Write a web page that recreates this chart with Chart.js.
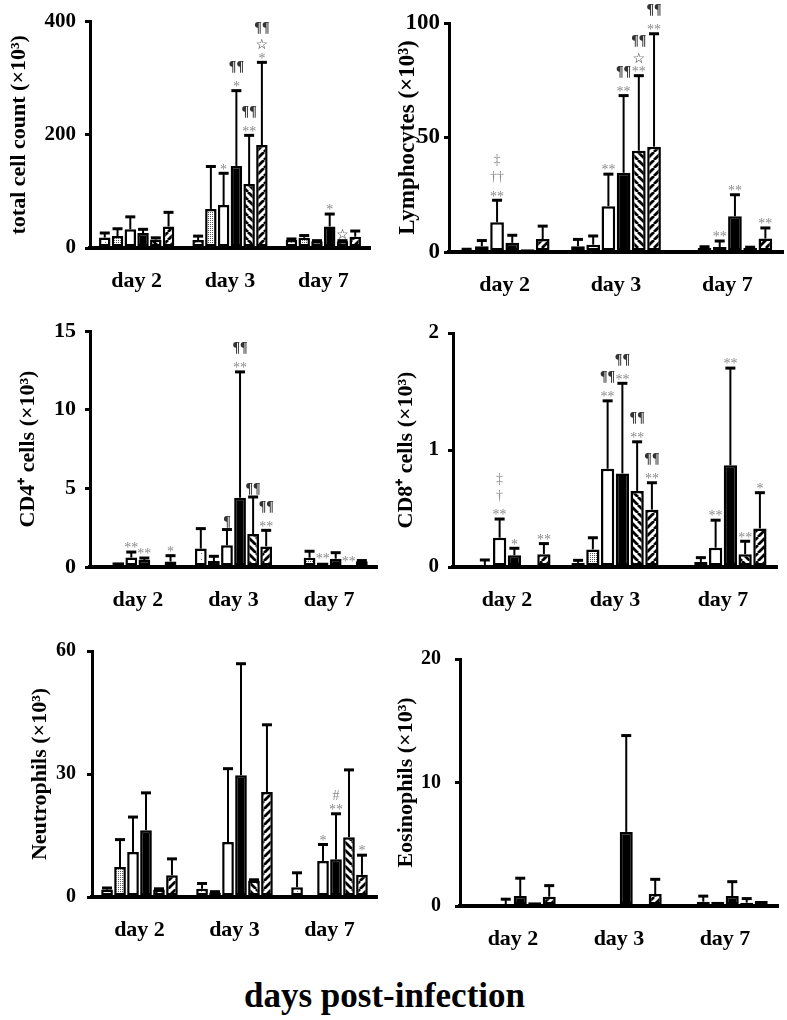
<!DOCTYPE html>
<html><head><meta charset="utf-8">
<script src="https://cdn.jsdelivr.net/npm/chart.js@4/dist/chart.umd.min.js"></script>
<style>
html,body{margin:0;padding:0;background:#fff;}
body{width:787px;height:1020px;overflow:hidden;position:relative;}
canvas{position:absolute;}
#xt{position:absolute;left:-9px;top:976px;width:787px;text-align:center;line-height:44px;font:bold 35px "Liberation Serif",serif;color:#000;}
</style></head><body>
<canvas id="c1"></canvas><canvas id="c2"></canvas><canvas id="c3"></canvas>
<canvas id="c4"></canvas><canvas id="c5"></canvas><canvas id="c6"></canvas>
<div id="xt">days post-infection</div>
<script>
const days = ['day 2', 'day 3', 'day 7'];

// rows = 6 groups (open-dotted, stippled, open, black, back-hatch, forward-hatch); columns = day 2, day 3, day 7
const totalMean = [[18.5, 14, 14], [21, 69, 18], [33, 76, 12], [26.5, 145, 38], [15, 113, 12], [38, 182, 20]];
const totalSD   = [[8, 7, 2], [13, 75, 4], [22, 56, 1], [6.5, 133, 22], [3, 86, 1], [25, 146, 10]];
const totalNote = [['', '', ''], ['', '', ''], ['', '*', ''], ['', '*|¶¶', '*'], ['', '**|¶¶', '☆'], ['', '*|☆|¶¶', '']];

const lymphMean = [[1, 2.5, 0.4], [2.5, 3.2, 1.8], [13, 20, 2.2], [4, 34.6, 15.6], [1.2, 44.2, 1.8], [5.7, 46, 5.9]];
const lymphSD   = [[0.2, 3, 0], [2.5, 3.8, 0.5], [9.6, 14, 2.6], [3.3, 33.7, 9.4], [0, 32.8, 0.3], [5.6, 49.3, 4.6]];
const lymphNote = [['', '', ''], ['', '', ''], ['**|††|‡', '**', '**'], ['', '**|¶¶', '**'], ['', '**|☆|¶¶', ''], ['', '**|¶¶', '**']];

const cd4Mean = [[0.05, 1.17, 0.02], [0.3, 0.38, 0.59], [0.6, 1.38, 0.28], [0.45, 4.4, 0.53], [0.02, 2.1, 0.1], [0.35, 1.31, 0.36]];
const cd4SD   = [[0, 1.27, 0], [0, 0.3, 0.41], [0.35, 1.0, 0], [0.12, 8.0, 0.38], [0, 2.35, 0], [0.37, 1.02, 0.05]];
const cd4Note = [['', '', ''], ['', '', ''], ['**', '¶', '**'], ['**', '**|¶¶', ''], ['', '¶¶', '**'], ['*', '**|¶¶', '']];

const cd8Mean = [[0.01, 0.035, 0.005], [0.015, 0.15, 0.043], [0.25, 0.84, 0.165], [0.1, 0.80, 0.87], [0.01, 0.65, 0.11], [0.11, 0.49, 0.33]];
const cd8SD   = [[0, 0.022, 0], [0.045, 0.10, 0.037], [0.16, 0.58, 0.235], [0.06, 0.77, 0.83], [0, 0.42, 0.11], [0.09, 0.23, 0.305]];
const cd8Note = [['', '', ''], ['', '', ''], ['**|†|‡', '**|¶¶', '**'], ['*', '**|¶¶', '**'], ['', '**|¶¶', '**'], ['**', '**|¶¶', '*']];

const neutMean = [[1.8, 2, 2.4], [7.3, 1.1, 0], [11, 13.4, 8.8], [16.3, 29.7, 9.2], [1.8, 4, 14.6], [5.3, 25.6, 5.4]];
const neutSD   = [[0.4, 1.3, 3.5], [6.7, 0.2, 0], [8.5, 17.9, 4], [9.1, 27.2, 11.1], [0.2, 0.2, 16.4], [4, 16.4, 4.8]];
const neutNote = [['', '', ''], ['', '', ''], ['', '', '*'], ['', '', '**|#'], ['', '', ''], ['', '', '*']];

const eosMean = [[0, 0, 0], [0, 0, 0.35], [0.15, 0, 0.35], [0.8, 6.0, 0.8], [0.3, 0, 0.27], [0.75, 0.97, 0.4]];
const eosSD   = [[0, 0, 0], [0, 0, 0.45], [0.4, 0, 0], [1.45, 7.8, 1.17], [0, 0, 0.33], [0.9, 1.19, 0]];
const eosNote = [['', '', ''], ['', '', ''], ['', '', ''], ['', '', ''], ['', '', ''], ['', '', '']];

// ---------- fill patterns ----------
function makePattern(kind) {
  const c = document.createElement('canvas');
  const s = kind === 'stipple' ? 2 : (kind === 'dots' ? 6 : 8);
  c.width = s; c.height = s;
  const g = c.getContext('2d');
  g.fillStyle = '#fff'; g.fillRect(0, 0, s, s);
  if (kind === 'dots') { g.fillStyle = '#777'; g.fillRect(3, 2, 1, 1); }
  if (kind === 'stipple') { g.fillStyle = '#555'; g.fillRect(0, 0, 1, 1); }
  if (kind === 'back' || kind === 'fwd') {
    g.strokeStyle = '#000'; g.lineWidth = 2.8; g.beginPath();
    for (let k = -s; k <= s; k += s) {
      if (kind === 'back') { g.moveTo(k, 0); g.lineTo(k + s, s); }
      else { g.moveTo(k + s, 0); g.lineTo(k, s); }
    }
    g.stroke();
  }
  return g.createPattern(c, 'repeat');
}
const fills = [makePattern('dots'), makePattern('stipple'), '#fff', '#000', makePattern('back'), makePattern('fwd')];

// ---------- error bars + significance marks ----------
const symH = {'*': 11, '☆': 11, '¶': 16, '†': 16, '‡': 17, '#': 12};
const symOff = {'*': 0.52, '☆': 0.36, '¶': 0.25, '†': 0.28, '‡': 0.28, '#': 0.34};
const errPlugin = {
  id: 'errbars',
  afterDatasetsDraw(chart) {
    const ctx = chart.ctx, ys = chart.scales.y;
    chart.data.datasets.forEach((ds, i) => {
      const meta = chart.getDatasetMeta(i);
      meta.data.forEach((bar, j) => {
        const v = ds.data[j], sd = ds.sd[j];
        const x = bar.x;
        let capY = bar.y;
        ctx.save();
        if (sd > 0) {
          capY = ys.getPixelForValue(v + sd);
          ctx.strokeStyle = '#000';
          ctx.lineWidth = 2;
          ctx.beginPath(); ctx.moveTo(x, bar.y); ctx.lineTo(x, capY); ctx.stroke();
          ctx.lineWidth = 3;
          ctx.beginPath(); ctx.moveTo(x - 5, capY); ctx.lineTo(x + 5, capY); ctx.stroke();
        }
        const note = ds.note[j];
        if (note) {
          const rows = note.split('|');
          let c = capY - 7;
          rows.forEach((r, k) => {
            if (k > 0) c -= Math.max(symH[rows[k - 1][0]], symH[r[0]]);
            const pil = r[0] === '¶';
            ctx.font = (pil ? 'bold ' : '') + '14px "Liberation Serif","DejaVu Sans"';
            ctx.fillStyle = pil ? '#333' : (r[0] === '☆' ? '#222' : '#8a8a8a');
            ctx.textAlign = 'center';
            ctx.textBaseline = 'alphabetic';
            ctx.fillText(r, x, c + symOff[r[0]] * 14);
          });
        }
        ctx.restore();
      });
    });
  }
};

// ---------- panels ----------
const panels = [
  {id: 'c1', box: [0, 0, 378, 300], area: [90, 370, 17, 248], max: 400, step: 200, title: 'total cell count (×10³)',
   mean: totalMean, sd: totalSD, note: totalNote, tickSize: 21, tickPad: 9, titleSize: 22, titleX: 19},
  {id: 'c2', box: [390, 0, 397, 300], area: [449, 783, 23, 252], max: 100, step: 50, title: 'Lymphocytes (×10³)',
   mean: lymphMean, sd: lymphSD, note: lymphNote, tickSize: 23, tickPad: 4, titleSize: 23, titleX: 408},
  {id: 'c3', box: [0, 305, 382, 310], area: [90, 377, 331, 567], max: 15, step: 5, title: 'CD4⁺ cells (×10³)',
   mean: cd4Mean, sd: cd4SD, note: cd4Note, tickSize: 22, tickPad: 9, titleSize: 22, titleX: 28},
  {id: 'c4', box: [390, 305, 397, 310], area: [453, 777, 333, 567], max: 2, step: 1, title: 'CD8⁺ cells (×10³)',
   mean: cd8Mean, sd: cd8SD, note: cd8Note, tickSize: 21, tickPad: 9, titleSize: 22, titleX: 406},
  {id: 'c5', box: [0, 625, 382, 335], area: [92, 377, 651, 897], max: 60, step: 30, title: 'Neutrophils (×10³)',
   mean: neutMean, sd: neutSD, note: neutNote, tickSize: 20, tickPad: 11, titleSize: 22, titleX: 40},
  {id: 'c6', box: [390, 625, 397, 335], area: [460, 778, 659, 906], max: 20, step: 10, title: 'Eosinophils (×10³)',
   mean: eosMean, sd: eosSD, note: eosNote, tickSize: 20, tickPad: 14, titleSize: 22, titleX: 406}
];

const FONT = '"Liberation Serif", "Times New Roman", serif';

panels.forEach(p => {
  const [bx, by, bw, bh] = p.box;
  const [L, R, T, B] = p.area;
  const cv = document.getElementById(p.id);
  cv.width = bw; cv.height = bh;
  cv.style.left = bx + 'px'; cv.style.top = by + 'px';
  cv.style.width = bw + 'px'; cv.style.height = bh + 'px';
  const yW = L - bx, xH = by + bh - B;
  const tLH = p.titleSize * 1.2;
  const datasets = p.mean.map((row, i) => ({
    data: row, sd: p.sd[i], note: p.note[i],
    backgroundColor: fills[i], borderColor: '#000', borderWidth: 2.5, borderSkipped: false,
    categoryPercentage: 0.82, barPercentage: 0.9
  }));
  new Chart(cv, {
    type: 'bar',
    data: {labels: days, datasets},
    options: {
      responsive: false, animation: false, devicePixelRatio: 1,
      layout: {padding: {top: T - by, right: bx + bw - R, left: 0, bottom: 0}},
      plugins: {legend: {display: false}, tooltip: {enabled: false}},
      scales: {
        x: {
          grid: {display: false, drawTicks: false},
          border: {display: true, color: '#000', width: 4},
          ticks: {color: '#000', padding: 20, font: {family: FONT, size: 22, weight: 'bold'}},
          afterFit(s) { s.height = xH; }
        },
        y: {
          min: 0, max: p.max,
          grid: {display: true, drawOnChartArea: false, drawTicks: true, tickLength: 5, color: '#000', lineWidth: 3},
          border: {display: true, color: '#000', width: 3},
          ticks: {stepSize: p.step, color: '#000', padding: p.tickPad, font: {family: FONT, size: p.tickSize, weight: 'bold'}},
          title: {display: true, text: p.title, color: '#000', font: {family: FONT, size: p.titleSize, weight: 'bold'},
                  padding: {top: p.titleX - bx - tLH / 2, bottom: 0}},
          afterFit(s) { s.width = yW; }
        }
      }
    },
    plugins: [errPlugin]
  });
});
</script>
</body></html>
